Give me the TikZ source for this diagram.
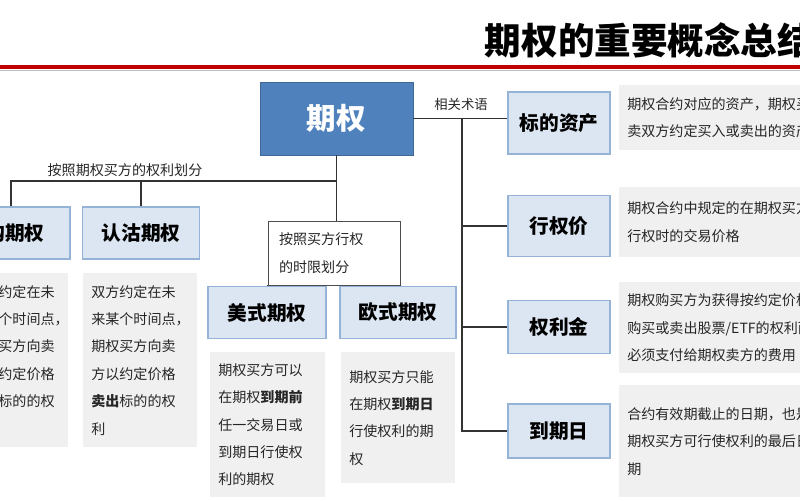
\documentclass[tikz,border=0pt]{standalone}
\usepackage{fontspec}
\setmainfont{Noto Sans CJK SC}
\usetikzlibrary{positioning}
\newdimen\pxu \pxu=0.025cm
\definecolor{rootblue}{HTML}{4F81BD}
\definecolor{termfill}{HTML}{DCE6F2}
\definecolor{termline}{HTML}{95B3D7}
\definecolor{descgray}{HTML}{F0F0F0}
\definecolor{titlered}{HTML}{C00000}
\tikzset{
  termbox/.style={draw=termline, line width=1.2pt, fill=termfill, font=\fontsize{14}{16}\selectfont\bfseries, minimum height=52\pxu},
  descbox/.style={fill=descgray, anchor=north west, align=left, inner xsep=8\pxu, inner ysep=6\pxu, font=\fontsize{10}{19.5}\selectfont, text=black!85},
  link/.style={draw=black!80, line width=0.8pt},
  lbl/.style={font=\fontsize{9.5}{12}\selectfont, text=black!85}
}
\begin{document}
\begin{tikzpicture}[x=0.025cm, y=-0.025cm]
  \useasboundingbox (0,0) rectangle (800,500);
  \clip (0,0) rectangle (800,500);
  % title and rule
  \node[anchor=west, font=\fontsize{26}{30}\selectfont\bfseries] (title) at (480,40) {期权的重要概念总结};
  \fill[titlered] (0,65) rectangle (800,68.5);
  \draw[black!25, line width=0.6pt] (0,70) -- (800,70);
  % root
  \node[draw=rootblue!80!black, fill=rootblue, text=white, font=\fontsize{21}{24}\selectfont\bfseries,
        minimum width=153\pxu, minimum height=73\pxu] (root) at (336.5,118.5) {期权};
  % terms on the right
  \node[termbox, minimum width=102\pxu, minimum height=62\pxu] (asset) at (559,123) {标的资产};
  \node[termbox, minimum width=102\pxu, minimum height=61\pxu] (strike) at (559,226) {行权价};
  \node[termbox, minimum width=102\pxu, minimum height=53\pxu] (premium) at (559,327) {权利金};
  \node[termbox, minimum width=102\pxu, minimum height=54\pxu] (expiry) at (559,431) {到期日};
  \node[descbox, text width=200\pxu, minimum height=65\pxu] (assetd) at (619,85) {期权合约对应的资产，期权买\\卖双方约定买入或卖出的资产};
  \node[descbox, text width=200\pxu, minimum height=70\pxu] (striked) at (619,187) {期权合约中规定的在期权买方\\行权时的交易价格};
  \node[descbox, text width=200\pxu, minimum height=91\pxu] (premiumd) at (619,282) {期权购买方为获得按约定价格\\购买或卖出股票/ETF的权利而\\必须支付给期权卖方的费用};
  \node[descbox, text width=200\pxu, minimum height=112\pxu] (expiryd) at (619,385) {合约有效期截止的日期，也是\\期权买方可行使权利的最后日\\期};
  \coordinate (trunk) at (462,118.5);
  \draw[link] (root.east) -- (root.east -| asset.west);
  \draw[link] (trunk) |- (expiry.west);
  \draw[link] (strike.west) -- (strike.west -| trunk);
  \draw[link] (premium.west) -- (premium.west -| trunk);
  \node[lbl] (termlbl) at (461,104) {相关术语};
  % split by buyer's right
  \node[termbox, minimum width=130\pxu] (call) at (5,233) {认购期权};
  \node[termbox, minimum width=117\pxu] (put) at (141,233) {认沽期权};
  \node[descbox, text width=90\pxu, minimum height=174\pxu] (calld) at (-38,273) {双方约定在未\\来某个时间点，\\期权买方向卖\\方以约定价格\\买入标的的权\\利};
  \node[descbox, text width=98\pxu, minimum height=174\pxu] (putd) at (83,273) {双方约定在未\\来某个时间点，\\期权买方向卖\\方以约定价格\\\textbf{卖出}标的的权\\利};
  \coordinate (rightjoint) at (336.5,181);
  \draw[link] (root.south) -- (rightjoint) -- (11,181) -- (call.north -| 11,0);
  \draw[link] (put.north) -- (put.north |- rightjoint);
  \node[lbl, font=\fontsize{10}{12}\selectfont] (rightlbl) at (125,170) {按照期权买方的权利划分};
  % split by exercise time
  \node[draw=black!70, fill=white, align=left, font=\fontsize{10}{19.5}\selectfont, text=black!85,
        minimum width=132\pxu, minimum height=64\pxu, text width=110\pxu] (timebox) at (334,253) {按照买方行权\\的时限划分};
  \draw[link] (rightjoint) -- (rightjoint |- timebox.north);
  \node[termbox, minimum width=118\pxu] (amer) at (267,312.5) {美式期权};
  \node[termbox, minimum width=116\pxu] (euro) at (398,312.5) {欧式期权};
  \draw[link] (timebox.south west) -- (amer.north -| timebox.south west);
  \draw[link] (timebox.south east) -- (euro.north -| timebox.south east);
  \node[descbox, text width=99\pxu, minimum height=145\pxu] (amerd) at (210,352) {期权买方可以\\在期权\textbf{到期前}\\任一交易日或\\到期日行使权\\利的期权};
  \node[descbox, text width=98\pxu, minimum height=131\pxu] (eurod) at (341,352) {期权买方只能\\在期权\textbf{到期日}\\行使权利的期\\权};
\end{tikzpicture}
\end{document}
